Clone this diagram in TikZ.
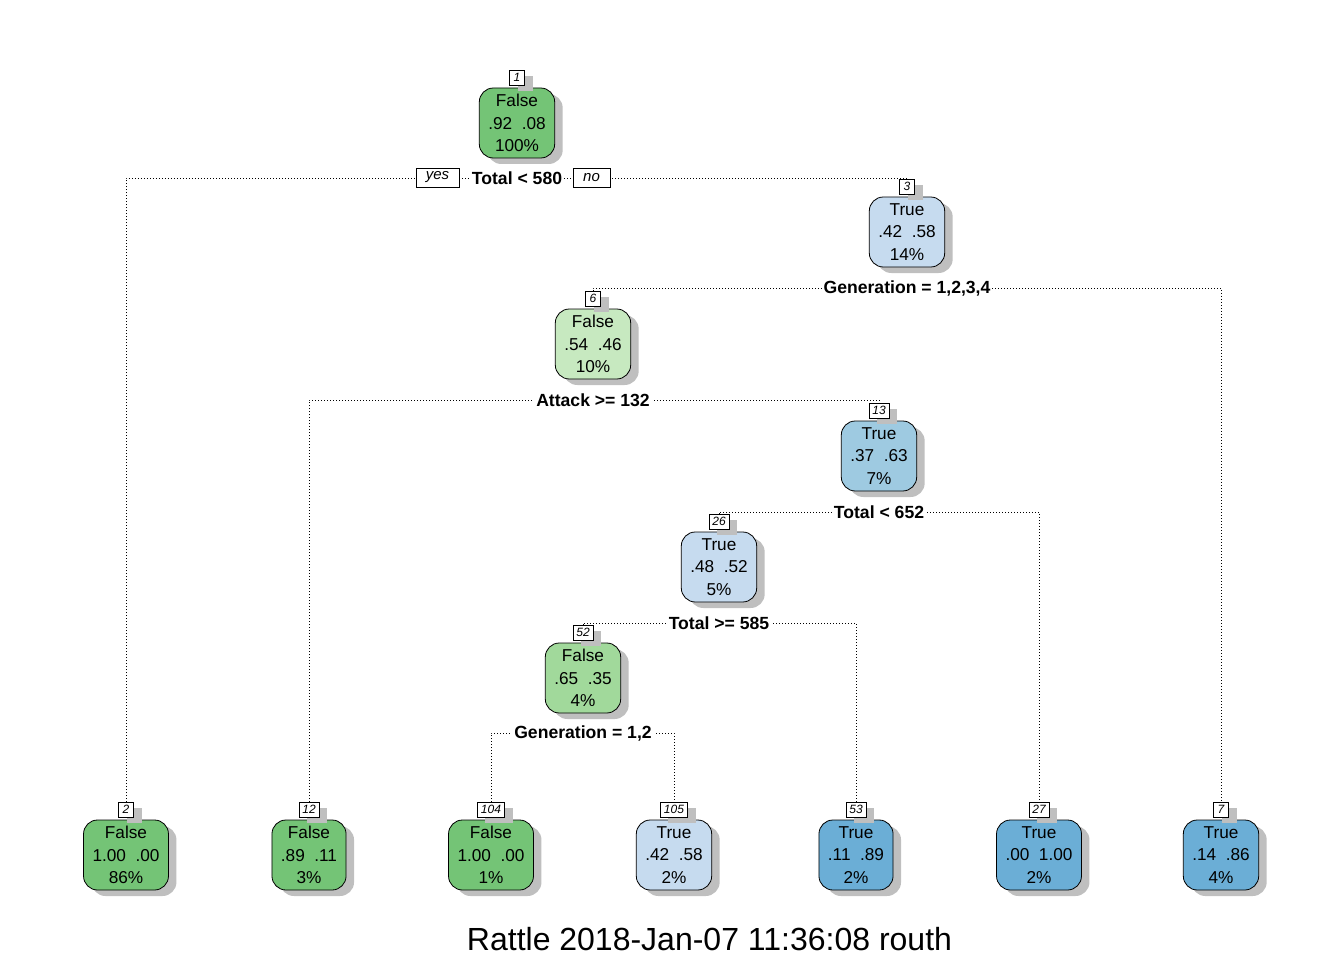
\documentclass[tikz,border=0pt]{standalone}
\usepackage{fontspec}
\setmainfont{Liberation Sans}
\usetikzlibrary{shadows}
\pgfdeclarelayer{bg}
\pgfsetlayers{bg,main}
\definecolor{gA}{HTML}{74C476}
\definecolor{gB}{HTML}{A1D99B}
\definecolor{gC}{HTML}{C7E9C0}
\definecolor{bA}{HTML}{C6DBEF}
\definecolor{bB}{HTML}{9ECAE1}
\definecolor{bC}{HTML}{6BAED6}
\tikzset{
  shd/.style={drop shadow={shadow xshift=8pt,shadow yshift=-6pt,fill=black!25,opacity=1}},
  tn/.style={draw,line width=0.8pt,rounded corners=14pt,align=center,inner xsep=9pt,inner ysep=0pt,
    minimum height=70pt,font=\fontsize{17.2}{22.5}\selectfont,shd},
  lb/.style={draw,fill=white,line width=0.6pt,font=\itshape\fontsize{12}{12}\selectfont,inner xsep=3.5pt,
    inner ysep=0pt,minimum width=15pt,minimum height=15pt,anchor=south,shd},
  sp/.style={fill=white,font=\bfseries\fontsize{17.6}{17.6}\selectfont,inner xsep=2pt,inner ysep=2pt},
  yn/.style={draw,fill=white,line width=0.6pt,font=\itshape\fontsize{15}{15}\selectfont,minimum height=19pt,
    inner ysep=0pt,inner xsep=10pt},
  dl/.style={line width=0.9pt,dash pattern=on 0.9pt off 2.1pt},
}
\begin{document}
\begin{tikzpicture}[x=1pt,y=-1pt]
\useasboundingbox (0,0) rectangle (1344,960);
% internal nodes
\node[tn,fill=gA] (n1) at (517,123) {False\\.92\ \ .08\\100\%};
\node[lb] (b1) at ([yshift=2pt]n1.north) {1};
\node[tn,fill=bA] (n3) at (907,232) {True\\.42\ \ .58\\14\%};
\node[lb] (b3) at ([yshift=2pt]n3.north) {3};
\node[tn,fill=gC] (n6) at (593,344) {False\\.54\ \ .46\\10\%};
\node[lb] (b6) at ([yshift=2pt]n6.north) {6};
\node[tn,fill=bB] (n13) at (879,456) {True\\.37\ \ .63\\7\%};
\node[lb] (b13) at ([yshift=2pt]n13.north) {13};
\node[tn,fill=bA] (n26) at (719,567) {True\\.48\ \ .52\\5\%};
\node[lb] (b26) at ([yshift=2pt]n26.north) {26};
\node[tn,fill=gB] (n52) at (583,678) {False\\.65\ \ .35\\4\%};
\node[lb] (b52) at ([yshift=2pt]n52.north) {52};
% leaves
\node[tn,fill=gA] (n2) at (126,855) {False\\1.00\ \ .00\\86\%};
\node[lb] (b2) at ([yshift=2pt]n2.north) {2};
\node[tn,fill=gA] (n12) at (309,855) {False\\.89\ \ .11\\3\%};
\node[lb] (b12) at ([yshift=2pt]n12.north) {12};
\node[tn,fill=gA] (n104) at (491,855) {False\\1.00\ \ .00\\1\%};
\node[lb] (b104) at ([yshift=2pt]n104.north) {104};
\node[tn,fill=bA] (n105) at (674,855) {True\\.42\ \ .58\\2\%};
\node[lb] (b105) at ([yshift=2pt]n105.north) {105};
\node[tn,fill=bC] (n53) at (856,855) {True\\.11\ \ .89\\2\%};
\node[lb] (b53) at ([yshift=2pt]n53.north) {53};
\node[tn,fill=bC] (n27) at (1039,855) {True\\.00\ \ 1.00\\2\%};
\node[lb] (b27) at ([yshift=2pt]n27.north) {27};
\node[tn,fill=bC] (n7) at (1221,855) {True\\.14\ \ .86\\4\%};
\node[lb] (b7) at ([yshift=2pt]n7.north) {7};
% split labels
\node[sp] (s1) at (517,178) {Total < 580};
\node[yn] (yes) at (437.5,177.5) {yes};
\node[yn] (no) at (591.5,177.5) {no};
\node[sp] (s3) at (907,288) {Generation = 1,2,3,4};
\node[sp] (s6) at (593,400) {Attack >= 132};
\node[sp] (s13) at (879,512) {Total < 652};
\node[sp] (s26) at (719,623) {Total >= 585};
\node[sp] (s52) at (583,733) {Generation = 1,2};
% connectors
\begin{pgfonlayer}{bg}
\draw[dl] (b2.north) |- (s1.center) -| (b3.north);
\draw[dl] (b6.north) |- (s3.center) -| (b7.north);
\draw[dl] (b12.north) |- (s6.center) -| (b13.north);
\draw[dl] (b26.north) |- (s13.center) -| (b27.north);
\draw[dl] (b52.north) |- (s26.center) -| (b53.north);
\draw[dl] (b104.north) |- (s52.center) -| (b105.north);
\end{pgfonlayer}
% caption
\node[font=\fontsize{32}{32}\selectfont] (cap) at (709.5,939) {Rattle 2018-Jan-07 11:36:08 routh};
\end{tikzpicture}
\end{document}
